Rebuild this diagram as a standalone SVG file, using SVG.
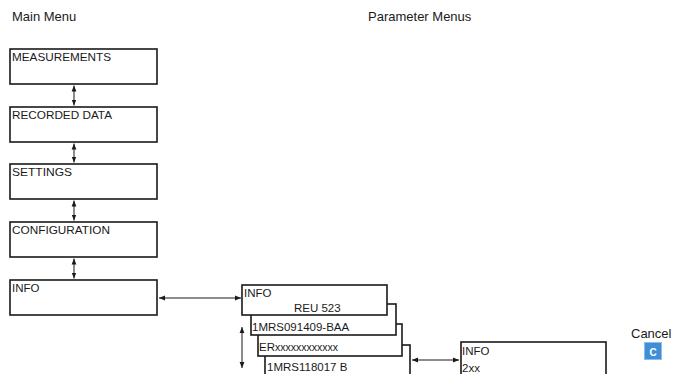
<svg xmlns="http://www.w3.org/2000/svg" width="673" height="374" viewBox="0 0 673 374">
<defs>
<marker id="ah" viewBox="0 0 10 10" refX="10" refY="5" markerWidth="6" markerHeight="6" markerUnits="userSpaceOnUse" orient="auto-start-reverse">
<path d="M0,1 L10,5 L0,9 z" fill="#1a1a1a"/>
</marker>
<style>
.box{fill:#fff;stroke:#1a1a1a;stroke-width:1.6}
.t{font-family:"Liberation Sans",Arial,sans-serif;font-size:11.5px;fill:#1a1a1a}
.h{font-family:"Liberation Sans",Arial,sans-serif;font-size:13px;fill:#1a1a1a}
.c{fill:none;stroke:#1a1a1a;stroke-width:1}
</style>
</defs>
<rect width="673" height="374" fill="#fff"/>
<text class="h" x="12" y="21">Main Menu</text>
<text class="h" x="368" y="21">Parameter Menus</text>

<g id="measurements"><rect class="box" x="10" y="49" width="147" height="35"/><text class="t" x="12" y="61" textLength="99" lengthAdjust="spacingAndGlyphs">MEASUREMENTS</text></g>
<g id="recorded-data"><rect class="box" x="10" y="107" width="147" height="35"/><text class="t" x="12" y="119" textLength="100" lengthAdjust="spacingAndGlyphs">RECORDED DATA</text></g>
<g id="settings"><rect class="box" x="10" y="164" width="147" height="35"/><text class="t" x="12" y="176" textLength="60" lengthAdjust="spacingAndGlyphs">SETTINGS</text></g>
<g id="configuration"><rect class="box" x="10" y="222" width="147" height="35"/><text class="t" x="12" y="234" textLength="98" lengthAdjust="spacingAndGlyphs">CONFIGURATION</text></g>
<g id="info-main"><rect class="box" x="10" y="280" width="147" height="35"/><text class="t" x="12" y="292">INFO</text></g>

<g id="param-4"><rect class="box" x="265" y="345" width="145" height="32"/><text class="t" x="267" y="371">1MRS118017 B</text></g>
<g id="param-3"><rect class="box" x="258" y="324" width="144" height="32"/><text class="t" x="259" y="351">ER<tspan font-size="10.5">xxxxxxxxxxxx</tspan></text></g>
<g id="param-2"><rect class="box" x="251" y="304" width="145" height="31"/><text class="t" x="252" y="331">1MRS091409-BAA</text></g>
<g id="param-1"><rect class="box" x="242" y="285" width="145" height="30"/><text class="t" x="244" y="297">INFO</text><text class="t" x="294" y="312">REU 523</text></g>

<g id="info-2xx"><rect class="box" x="461" y="342" width="145" height="36"/><text class="t" x="462" y="355">INFO</text><text class="t" x="462" y="372">2xx</text></g>

<g id="cancel"><text class="h" x="631" y="338">Cancel</text><rect x="644.5" y="342.5" width="17" height="17" fill="#3f8fd6" stroke="#8fbde8" stroke-width="1"/><text x="653" y="355.5" text-anchor="middle" font-family="'Liberation Sans',Arial,sans-serif" font-size="10" font-weight="bold" fill="#fff">C</text></g>

<g id="connectors">
<line class="c" x1="74" y1="85.5" x2="74" y2="105.5" marker-start="url(#ah)" marker-end="url(#ah)"/>
<line class="c" x1="74" y1="143.5" x2="74" y2="162.5" marker-start="url(#ah)" marker-end="url(#ah)"/>
<line class="c" x1="74" y1="200.5" x2="74" y2="220.5" marker-start="url(#ah)" marker-end="url(#ah)"/>
<line class="c" x1="74" y1="258.5" x2="74" y2="278.5" marker-start="url(#ah)" marker-end="url(#ah)"/>
<line class="c" x1="159" y1="298" x2="241" y2="298" marker-start="url(#ah)" marker-end="url(#ah)"/>
<line class="c" x1="242" y1="327" x2="242" y2="368" marker-start="url(#ah)" marker-end="url(#ah)"/>
<line class="c" x1="412" y1="360" x2="459" y2="360" marker-start="url(#ah)" marker-end="url(#ah)"/>
</g>
</svg>
